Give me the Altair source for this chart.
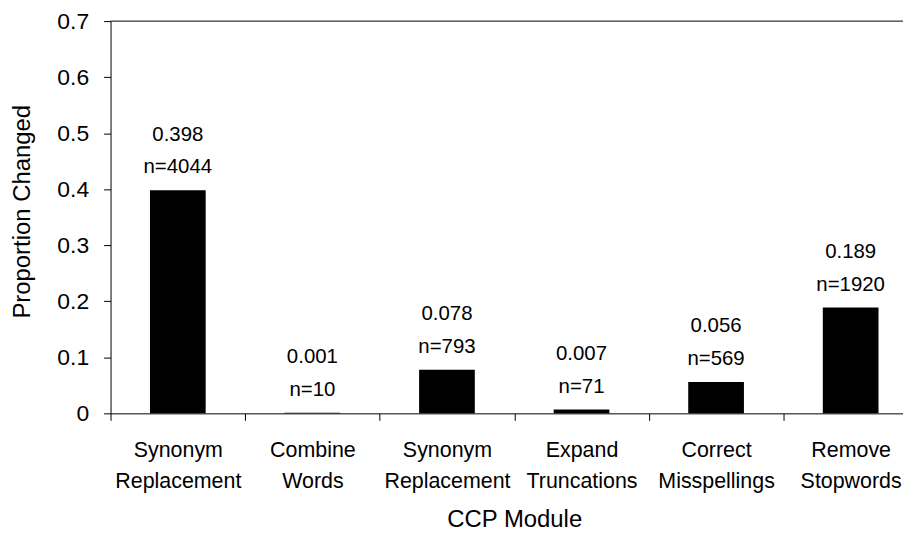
import json
import altair as alt
import pandas as pd

# ---- data ----
line1 = ["Synonym", "Combine", "Synonym", "Expand", "Correct", "Remove"]
line2 = ["Replacement", "Words", "Replacement", "Truncations", "Misspellings", "Stopwords"]
proportion = [0.398, 0.001, 0.078, 0.007, 0.056, 0.189]
counts = [4044, 10, 793, 71, 569, 1920]
y_ticks = [0, 0.1, 0.2, 0.3, 0.4, 0.5, 0.6, 0.7]
y_max = 0.7

df = pd.DataFrame({
    "idx": [str(i) for i in range(len(proportion))],
    "p": proportion,
    "n": counts,
})
df["vlabel"] = df["p"].map(lambda v: f"{v:.3f}")
df["nlabel"] = df["n"].map(lambda v: f"n={v}")

FONT = "Liberation Sans"
label_expr = (
    f"[{json.dumps(line1)}[toNumber(datum.value)], "
    f"{json.dumps(line2)}[toNumber(datum.value)]]"
)

x_enc = alt.X(
    "idx:O",
    scale=alt.Scale(range=[0, 811], paddingInner=0, paddingOuter=0),
    axis=alt.Axis(
        title="CCP Module",
        labelExpr=label_expr,
        labelAngle=0,
        labelFontSize=21.5,
        labelLineHeight=31,
        labelPadding=19,
        labelColor="black",
        labelFont=FONT,
        tickBand="extent",
        tickSize=7,
        tickColor="black",
        domainColor="black",
        titleFontSize=24,
        titleFont=FONT,
        titleFontWeight="normal",
        titleColor="black",
        titlePadding=16,
    ),
)

y_scale = alt.Scale(domain=[0, y_max], nice=False)
y_enc = alt.Y(
    "p:Q",
    scale=y_scale,
    axis=alt.Axis(
        title="Proportion Changed",
        values=y_ticks,
        labelExpr="datum.value == 0 ? '0' : format(datum.value, '.1f')",
        labelFontSize=23,
        labelFont=FONT,
        labelColor="black",
        labelPadding=15,
        tickSize=7,
        tickColor="black",
        domainColor="black",
        grid=False,
        titleFontSize=24,
        titleFont=FONT,
        titleFontWeight="normal",
        titleColor="black",
        titleX=-88,
        titleY=191,
        titleBaseline="middle",
        titleAngle=270,
    ),
)

base = alt.Chart(df)

bars = base.mark_bar(color="black", width=alt.RelativeBandSize(0.414)).encode(x=x_enc, y=y_enc)

n_text = base.mark_text(
    font=FONT, fontSize=20.5, color="black", baseline="middle", dy=-23
).encode(x=x_enc, y=alt.Y("p:Q", scale=y_scale), text="nlabel:N")

v_text = base.mark_text(
    font=FONT, fontSize=20.5, color="black", baseline="middle", dy=-56
).encode(x=x_enc, y=alt.Y("p:Q", scale=y_scale), text="vlabel:N")

top_line = alt.Chart(pd.DataFrame({"top": [y_max]})).mark_rule(
    color="black", strokeWidth=1
).encode(y=alt.Y("top:Q", scale=y_scale))

chart = (
    alt.layer(bars, n_text, v_text, top_line)
    .properties(
        width=796,
        height=394,
        padding={"left": 103, "top": 12, "right": 0, "bottom": 119},
        autosize=alt.AutoSizeParams(type="none"),
        background="white",
    )
    .configure_view(stroke=None)
)

chart.save("out.html", embed_options={"renderer": "svg", "actions": False})
